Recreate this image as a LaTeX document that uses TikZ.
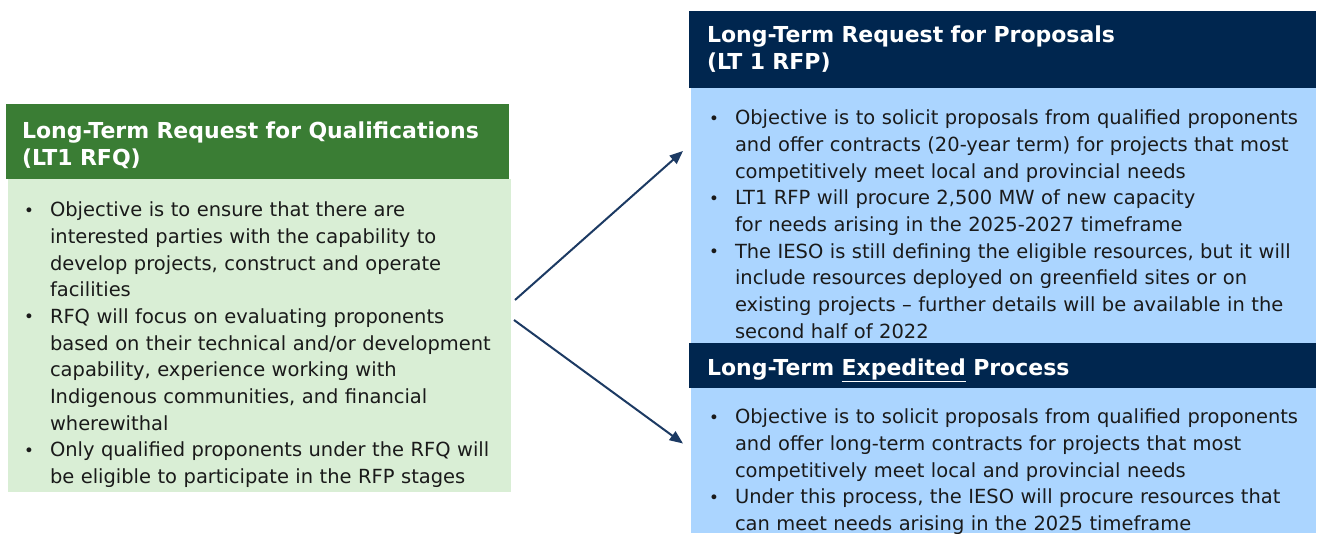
\documentclass[tikz,border=0pt]{standalone}
\usepackage{fontspec}
\setmainfont{DejaVu Sans}
\usetikzlibrary{arrows.meta,calc}
\definecolor{hgreen}{HTML}{3A7D34}
\definecolor{bgreen}{HTML}{D9EED5}
\definecolor{navy}{HTML}{00264F}
\definecolor{lblue}{HTML}{ABD5FF}
\definecolor{arrowc}{HTML}{1C3A63}
\definecolor{txt}{HTML}{1A1A1A}
\newcommand\bitem[1]{\par\hangindent=#1\hangafter=1\noindent\makebox[#1][l]{\raisebox{0.6pt}{\fontsize{12.5}{12.5}\selectfont\textbullet}}\strut}
\begin{document}
\begin{tikzpicture}[x=0.75pt,y=-0.75pt,
  panel/.style={draw=none, inner sep=0pt, outer sep=0pt, anchor=north west},
  hdrtext/.style={anchor=north west, inner sep=0pt, outer sep=0pt, text=white, align=left, text width=460pt, font=\fontsize{16.5}{20.6}\selectfont\bfseries},
  bodytext/.style={anchor=north west, inner sep=0pt, outer sep=0pt, text=txt, align=left, text width=460pt, font=\fontsize{14.6}{20}\selectfont},
  arr/.style={draw=arrowc, line width=1.5pt, -{Triangle[length=10pt,width=8pt]}}]
\useasboundingbox[fill=white] (0,0) rectangle (1321,534);
% panels
\node[panel, fill=hgreen, minimum width=377.25pt, minimum height=56.25pt] (rfqhead) at (6,104) {};
\node[panel, fill=bgreen, minimum width=377.25pt, minimum height=234.75pt] (rfqbody) at (8,179) {};
\node[panel, fill=navy, minimum width=470.25pt, minimum height=57.75pt] (rfphead) at (689,11) {};
\node[panel, fill=lblue, minimum width=468.75pt, minimum height=191.25pt] (rfpbody) at (691,88) {};
\node[panel, fill=navy, minimum width=470.25pt, minimum height=33.75pt] (exphead) at (689,343) {};
\node[panel, fill=lblue, minimum width=468.75pt, minimum height=108.75pt] (expbody) at (691,388) {};
% header texts
\node[hdrtext] (rfqheadtxt) at (22,118.8) {\strut Long-Term Request for Qualifications\newline(LT1 RFQ)};
\node[hdrtext] (rfpheadtxt) at (707,22.8) {\strut Long-Term Request for Proposals\newline(LT 1 RFP)};
\node[hdrtext] (expheadtxt) at (707,355.8) {\strut Long-Term \underline{Expedited} Process};
% body texts
\node[bodytext] (rfqbodytxt) at (24,190.3) {%
\bitem{19.5pt}Objective is to ensure that there are\newline interested parties with the capability to\newline develop projects, construct and operate\newline facilities
\bitem{19.5pt}RFQ will focus on evaluating proponents\newline based on their technical and/or development\newline capability, experience working with\newline Indigenous communities, and financial\newline wherewithal
\bitem{19.5pt}Only qualified proponents under the RFQ will\newline be eligible to participate in the RFP stages\par};
\node[bodytext] (rfpbodytxt) at (709,98.3) {%
\bitem{19.5pt}Objective is to solicit proposals from qualified proponents\newline and offer contracts (20-year term) for projects that most\newline competitively meet local and provincial needs
\bitem{19.5pt}LT1 RFP will procure 2,500 MW of new capacity\newline for needs arising in the 2025-2027 timeframe
\bitem{19.5pt}The IESO is still defining the eligible resources, but it will\newline include resources deployed on greenfield sites or on\newline existing projects – further details will be available in the\newline second half of 2022\par};
\node[bodytext] (expbodytxt) at (709,397.3) {%
\bitem{19.5pt}Objective is to solicit proposals from qualified proponents\newline and offer long-term contracts for projects that most\newline competitively meet local and provincial needs
\bitem{19.5pt}Under this process, the IESO will procure resources that\newline can meet needs arising in the 2025 timeframe\par};
% arrows
\draw[arr] ([shift={(4,-35.5)}]rfqbody.east) -- ([shift={(-8,-64.5)}]rfpbody.west);
\draw[arr] ([shift={(3,-15.5)}]rfqbody.east) -- ([shift={(-8,-17)}]expbody.west);
\end{tikzpicture}
\end{document}
